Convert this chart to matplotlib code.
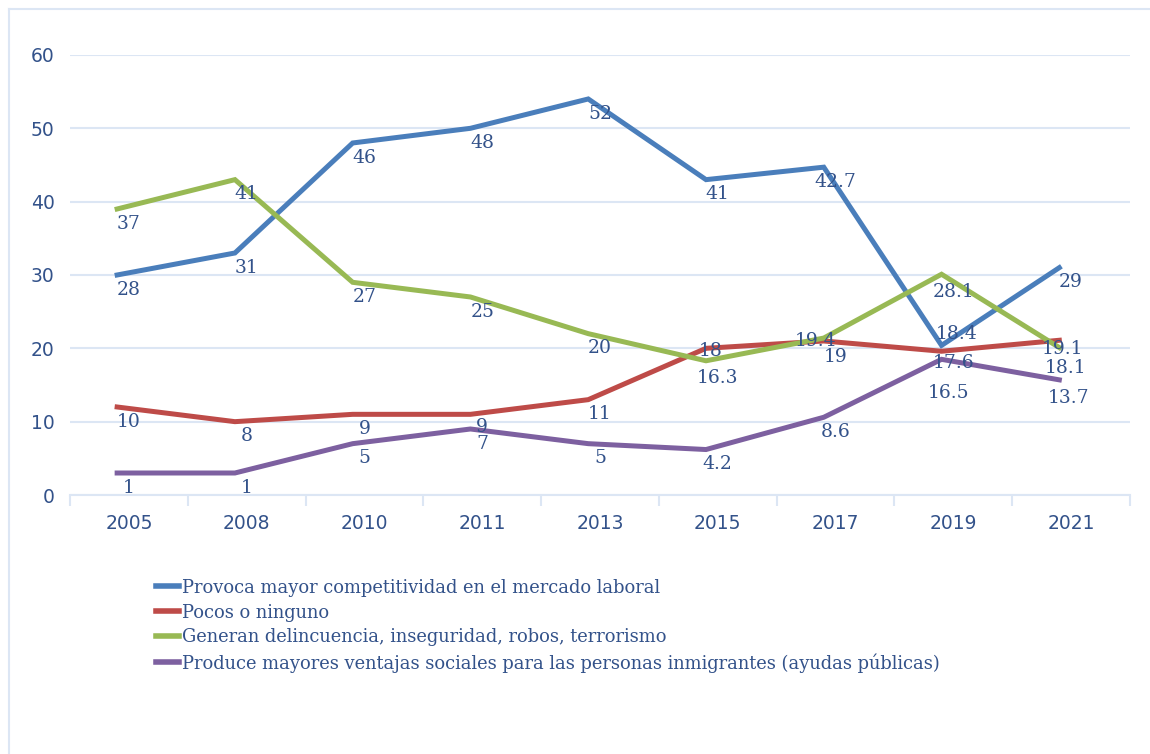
import matplotlib.pyplot as plt
from matplotlib.lines import Line2D

years = ['2005', '2008', '2010', '2011', '2013', '2015', '2017', '2019', '2021']

competitividad = [28, 31, 46, 48, 52, 41, 42.7, 18.4, 29]
pocos_ninguno = [10, 8, 9, 9, 11, 18, 19, 17.6, 19.1]
delincuencia = [37, 41, 27, 25, 20, 16.3, 19.4, 28.1, 18.1]
ventajas = [1, 1, 5, 7, 5, 4.2, 8.6, 16.5, 13.7]

series_names = [
    'Provoca mayor competitividad en el mercado laboral',
    'Pocos o ninguno',
    'Generan delincuencia, inseguridad, robos, terrorismo',
    'Produce mayores ventajas sociales para las personas inmigrantes (ayudas públicas)',
]
colors = ['#4A7EBB', '#BE4B48', '#98B954', '#7D60A0']

# the original draws its lines slightly up/left of where the labels sit
line_dx = -0.1
line_dy = 2.0
text_color = '#33528A'
grid_color = '#DCE6F4'

fig = plt.figure(figsize=(11.5, 7.54), dpi=100)
ax = fig.add_axes([0.0609, 0.3435, 0.9217, 0.5836])

x = list(range(len(years)))
all_series = [competitividad, pocos_ninguno, delincuencia, ventajas]
for vals, c in zip(all_series, colors):
    ax.plot([i + line_dx for i in x], [v + line_dy for v in vals],
            color=c, lw=3.6, solid_joinstyle='miter', zorder=3)

# data labels (nudges where the original moved overlapping labels)
nudges = {
    (2, 6): (-0.17, 1.6), (1, 6): (0, -0.2),
    (1, 5): (-0.06, 1.7), (2, 5): (0, -0.3),
    (1, 3): (0, 0.3),
    (0, 7): (0.03, 3.6), (1, 7): (0, 0.4), (3, 7): (-0.04, -2.6), (2, 7): (0, -0.4),
    (1, 8): (-0.07, 0.8), (2, 8): (-0.05, -0.8), (3, 8): (-0.02, -0.5),
}
for si, vals in enumerate(all_series):
    for i, v in enumerate(vals):
        dx, dy = nudges.get((si, i), (0, 0))
        ax.text(i + dx, v + dy, f'{v:g}', ha='center', va='center',
                fontsize=13.5, family='DejaVu Serif', color=text_color, zorder=4)

ax.set_xlim(-0.5, len(years) - 0.5)
ax.set_ylim(0, 60)
ax.set_yticks(range(0, 61, 10))
ax.set_xticks(x)
ax.set_xticklabels(years)
ax.set_xticks([i - 0.5 for i in range(len(years) + 1)], minor=True)
ax.grid(axis='y', color=grid_color, lw=1.5, zorder=0)
for s in ['top', 'right', 'left']:
    ax.spines[s].set_visible(False)
ax.spines['bottom'].set_color(grid_color)
ax.spines['bottom'].set_linewidth(1.5)
ax.tick_params(axis='x', which='major', length=0, pad=14, labelsize=13.5, labelcolor=text_color)
ax.tick_params(axis='x', which='minor', length=8, width=1.5, color=grid_color)
ax.tick_params(axis='y', length=0, pad=11, labelsize=13.5, labelcolor=text_color)

handles = [Line2D([0], [0], color=c, lw=4) for c in colors]
leg = fig.legend(handles, series_names, loc='upper left', bbox_to_anchor=(0.129, 0.242),
                 frameon=False, fontsize=12.9, handlelength=1.3, handletextpad=0.2,
                 labelspacing=0.38, borderaxespad=0)
for t in leg.get_texts():
    t.set_color(text_color)
    t.set_family('DejaVu Serif')

# faint frame at the left and top of the picture
fig.add_artist(Line2D([0.0075, 0.0075], [0, 0.988], color=grid_color, lw=1.5))
fig.add_artist(Line2D([0.0075, 1], [0.988, 0.988], color=grid_color, lw=1.5))

fig.savefig('out.png', dpi=100, facecolor='white')
